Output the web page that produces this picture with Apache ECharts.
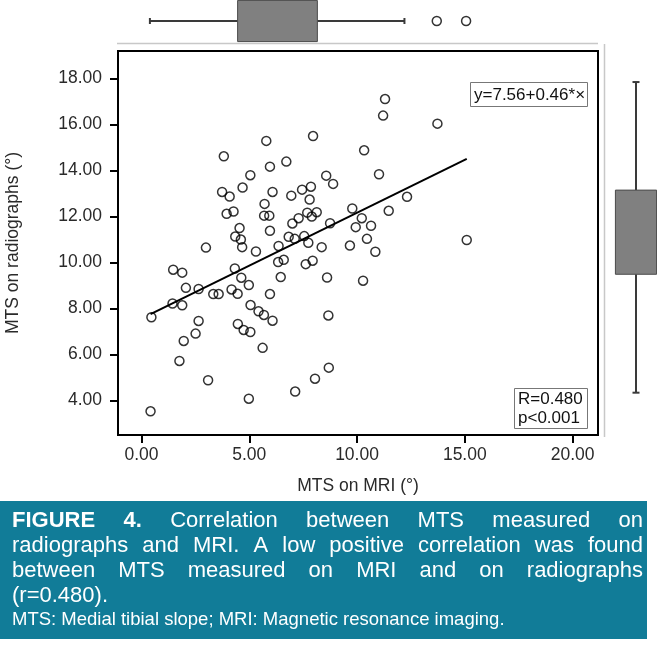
<!DOCTYPE html>
<html><head><meta charset="utf-8">
<script src="https://cdn.jsdelivr.net/npm/echarts@6/dist/echarts.min.js"></script>
<style>html,body{margin:0;padding:0;background:#fff}#c{width:657px;height:656px}</style>
</head><body><div id="c"></div>
<script>
// ---- data ----
const mriValues = [
  5.79,7.96,3.82,5.96,6.72,5.05,4.69,3.74,4.09,6.08,6.95,7.45,7.86,7.80,5.71,3.95,4.27,5.69,5.93,7.69,
  7.90,7.29,7.00,4.55,5.96,4.35,4.61,6.83,7.11,7.55,7.74,2.99,4.67,5.31,6.36,
  11.30,11.21,13.73,10.33,11.02,8.57,8.89,12.32,8.13,9.78,11.47,8.75,10.22,9.94,10.65,8.36,9.67,10.46,10.85,15.09,
  1.47,1.89,4.33,6.34,6.60,7.62,7.94,4.63,4.98,6.46,2.06,2.65,3.33,3.58,4.18,4.46,5.96,1.44,1.89,5.06,
  5.43,5.68,6.08,0.46,2.65,4.47,4.74,5.05,2.51,1.96,5.62,1.76,3.09,4.98,7.13,8.05,0.42,
  8.61,10.28,8.67,8.69
];
const radioValues = [
  15.28,15.49,14.61,14.16,14.38,13.79,13.25,13.06,12.86,13.06,12.90,13.16,13.29,12.73,12.54,12.11,12.21,12.03,12.03,12.16,
  11.99,11.92,11.69,11.49,11.37,11.12,10.99,11.11,11.02,11.14,10.85,10.64,10.66,10.47,10.71,
  17.10,16.38,16.03,14.87,13.83,13.77,13.41,12.85,12.18,12.34,12.24,11.70,11.92,11.53,11.59,10.66,10.73,11.02,10.46,10.97,
  9.68,9.55,9.73,10.01,10.11,9.92,10.07,9.33,9.01,9.36,8.89,8.84,8.62,8.62,8.82,8.63,8.62,8.21,8.13,8.14,
  7.87,7.71,7.46,7.61,7.45,7.32,7.06,6.97,6.90,6.58,6.28,5.71,4.87,4.07,4.38,4.94,3.52,
  9.34,9.20,7.69,5.42
];
const xTickValues = [0, 5, 10, 15, 20];
const yTickValues = [4, 6, 8, 10, 12, 14, 16, 18];
const fitLinePoints = [[0.42, 7.75], [15.09, 14.50]];
const mriBox = [0.39, 4.46, 8.16, 12.2];        // lower whisker, Q1, Q3, upper whisker
const mriOutliers = [13.7, 15.06];
const radioBox = [4.33, 9.48, 13.14, 17.84];    // lower whisker, Q1, Q3, upper whisker
const xAxisTitle = 'MTS on MRI (°)';
const yAxisTitle = 'MTS on radiographs (°)';
const equationText = 'y=7.56+0.46*×';
const statTexts = ['R=0.480', 'p<0.001'];
const captionLines = [
  'FIGURE 4. Correlation between MTS measured on',
  'radiographs and MRI. A low positive correlation was found',
  'between MTS measured on MRI and on radiographs',
  '(r=0.480).'
];
const captionBold = ['FIGURE', '4.'];
const captionNote = 'MTS: Medial tibial slope; MRI: Magnetic resonance imaging.';

// ---- styling ----
const FONT = '"Liberation Sans", Arial, Helvetica, sans-serif';
const XMIN = -1.09, XMAX = 21.18, YMIN = 2.49, YMAX = 19.19;
const TEAL = '#117c98';

const scatterData = mriValues.map((v, i) => [v, radioValues[i]]);

const ctx = document.createElement('canvas').getContext('2d');
function textW(t, bold, size) {
  ctx.font = (bold ? 'bold ' : '') + size + 'px ' + FONT;
  return ctx.measureText(t).width;
}

// caption graphic (justified lines)
const capLeft = 12, capRight = 643, capSize = 22, capTop = 521, capLH = 25;
const captionGraphics = [];
captionLines.forEach((line, li) => {
  const words = line.split(' ');
  const bolds = words.map(w => li === 0 && captionBold.includes(w));
  const widths = words.map((w, i) => textW(w, bolds[i], capSize));
  const total = widths.reduce((a, b) => a + b, 0);
  const justify = li < captionLines.length - 1;
  const gap = justify ? (capRight - capLeft - total) / (words.length - 1) : textW(' ', false, capSize);
  let x = capLeft;
  words.forEach((w, i) => {
    captionGraphics.push({
      type: 'text', x: x, y: capTop + li * capLH,
      style: { text: w, fill: '#fff', font: (bolds[i] ? 'bold ' : '') + capSize + 'px ' + FONT, verticalAlign: 'middle', textAlign: 'left' }
    });
    x += widths[i] + gap;
  });
});
captionGraphics.push({
  type: 'text', x: capLeft, y: capTop + 4 * capLH - 1,
  style: { text: captionNote, fill: '#fff', font: '18.5px ' + FONT, verticalAlign: 'middle', textAlign: 'left' }
});

function hBoxRender(params, api) {
  const lo = api.value(0), q1 = api.value(1), q3 = api.value(2), hi = api.value(3);
  const pLo = api.coord([lo, 0.5]), pQ1 = api.coord([q1, 0.5]), pQ3 = api.coord([q3, 0.5]), pHi = api.coord([hi, 0.5]);
  const h = api.size([0, 1])[1] * 0.98;
  const cy = pLo[1];
  const ws = { stroke: '#3a3a3a', lineWidth: 2 };
  return { type: 'group', children: [
    { type: 'line', shape: { x1: pLo[0], y1: cy, x2: pQ1[0], y2: cy }, style: ws },
    { type: 'line', shape: { x1: pQ3[0], y1: cy, x2: pHi[0], y2: cy }, style: ws },
    { type: 'line', shape: { x1: pLo[0], y1: cy - 3, x2: pLo[0], y2: cy + 3 }, style: ws },
    { type: 'line', shape: { x1: pHi[0], y1: cy - 3, x2: pHi[0], y2: cy + 3 }, style: ws },
    { type: 'rect', shape: { x: pQ1[0], y: cy - h / 2, width: pQ3[0] - pQ1[0], height: h }, style: { fill: '#808080', stroke: '#4a4a4a', lineWidth: 1 } }
  ]};
}
function vBoxRender(params, api) {
  const lo = api.value(0), q1 = api.value(1), q3 = api.value(2), hi = api.value(3);
  const pLo = api.coord([0.5, lo]), pQ1 = api.coord([0.5, q1]), pQ3 = api.coord([0.5, q3]), pHi = api.coord([0.5, hi]);
  const w = api.size([1, 0])[0] * 0.98;
  const cx = pLo[0];
  const ws = { stroke: '#3a3a3a', lineWidth: 2 };
  return { type: 'group', children: [
    { type: 'line', shape: { x1: cx, y1: pLo[1], x2: cx, y2: pQ1[1] }, style: ws },
    { type: 'line', shape: { x1: cx, y1: pQ3[1], x2: cx, y2: pHi[1] }, style: ws },
    { type: 'line', shape: { x1: cx - 3.5, y1: pLo[1], x2: cx + 3.5, y2: pLo[1] }, style: ws },
    { type: 'line', shape: { x1: cx - 3.5, y1: pHi[1], x2: cx + 3.5, y2: pHi[1] }, style: ws },
    { type: 'rect', shape: { x: cx - w / 2, y: pQ3[1], width: w, height: pQ1[1] - pQ3[1] }, style: { fill: '#808080', stroke: '#4a4a4a', lineWidth: 1 } }
  ]};
}

const chart = echarts.init(document.getElementById('c'), null, { renderer: 'canvas' });
const labelStyle = { fontFamily: FONT, fontSize: 17.5, color: '#2a2a2a' };
chart.setOption({
  animation: false,
  backgroundColor: '#fff',
  grid: [
    { left: 118, top: 51, width: 480, height: 384, show: true, borderColor: '#000', borderWidth: 2, backgroundColor: 'transparent', containLabel: false, outerBoundsMode: 'none' },
    { left: 118, top: 0, width: 480, height: 42, containLabel: false, outerBoundsMode: 'none' },
    { left: 615, top: 51, width: 42, height: 384, containLabel: false, outerBoundsMode: 'none' }
  ],
  xAxis: [
    { type: 'value', gridIndex: 0, min: XMIN, max: XMAX,
      axisLine: { show: true, onZero: false, lineStyle: { color: '#000', width: 2 } },
      axisTick: { show: true, length: 8, customValues: xTickValues, lineStyle: { color: '#000', width: 2 } },
      axisLabel: Object.assign({ customValues: xTickValues, margin: 11, formatter: v => v.toFixed(2) }, labelStyle),
      splitLine: { show: false },
      name: xAxisTitle, nameLocation: 'middle', nameGap: 42, nameTextStyle: labelStyle },
    { type: 'value', gridIndex: 1, min: XMIN, max: XMAX, show: false },
    { type: 'value', gridIndex: 2, min: 0, max: 1, show: false }
  ],
  yAxis: [
    { type: 'value', gridIndex: 0, min: YMIN, max: YMAX,
      axisLine: { show: true, onZero: false, lineStyle: { color: '#000', width: 2 } },
      axisTick: { show: true, length: 8, customValues: yTickValues, lineStyle: { color: '#000', width: 2 } },
      axisLabel: Object.assign({ customValues: yTickValues, margin: 16, formatter: v => v.toFixed(2) }, labelStyle),
      splitLine: { show: false },
      name: yAxisTitle, nameLocation: 'middle', nameGap: 96, nameRotate: 90, nameTextStyle: labelStyle },
    { type: 'value', gridIndex: 1, min: 0, max: 1, show: false },
    { type: 'value', gridIndex: 2, min: YMIN, max: YMAX, show: false }
  ],
  series: [
    { type: 'scatter', xAxisIndex: 0, yAxisIndex: 0, data: scatterData, symbol: 'circle', symbolSize: 9,
      itemStyle: { color: 'rgba(255,255,255,0)', borderColor: '#000', borderWidth: 1.5 }, silent: true },
    { type: 'line', xAxisIndex: 0, yAxisIndex: 0, data: fitLinePoints, showSymbol: false, symbol: 'none',
      lineStyle: { color: '#000', width: 2 }, silent: true },
    { type: 'custom', xAxisIndex: 1, yAxisIndex: 1, data: [mriBox], renderItem: hBoxRender, silent: true },
    { type: 'scatter', xAxisIndex: 1, yAxisIndex: 1, data: mriOutliers.map(v => [v, 0.5]), symbolSize: 9,
      itemStyle: { color: '#fff', borderColor: '#000', borderWidth: 1.5 }, silent: true },
    { type: 'custom', xAxisIndex: 2, yAxisIndex: 2, data: [radioBox], renderItem: vBoxRender, silent: true }
  ],
  graphic: [
    { type: 'line', shape: { x1: 117, y1: 43.5, x2: 598, y2: 43.5 }, style: { stroke: '#c8c8c8', lineWidth: 1.5 } },
    { type: 'line', shape: { x1: 604.5, y1: 44, x2: 604.5, y2: 437 }, style: { stroke: '#c8c8c8', lineWidth: 1.5 } },
    { type: 'rect', shape: { x: 470.5, y: 82.5, width: 117, height: 24 }, style: { fill: '#fff', stroke: '#777', lineWidth: 1 } },
    { type: 'text', x: 474, y: 95, style: { text: equationText, font: '17px ' + FONT, fill: '#111', verticalAlign: 'middle' } },
    { type: 'rect', shape: { x: 514.5, y: 388.5, width: 73, height: 40 }, style: { fill: '#fff', stroke: '#777', lineWidth: 1 } },
    { type: 'text', x: 518, y: 399, style: { text: statTexts[0], font: '17px ' + FONT, fill: '#111', verticalAlign: 'middle' } },
    { type: 'text', x: 518, y: 418, style: { text: statTexts[1], font: '17px ' + FONT, fill: '#111', verticalAlign: 'middle' } },
    { type: 'rect', shape: { x: 0, y: 501, width: 647, height: 138 }, style: { fill: TEAL } }
  ].concat(captionGraphics)
});
</script>
</body></html>
